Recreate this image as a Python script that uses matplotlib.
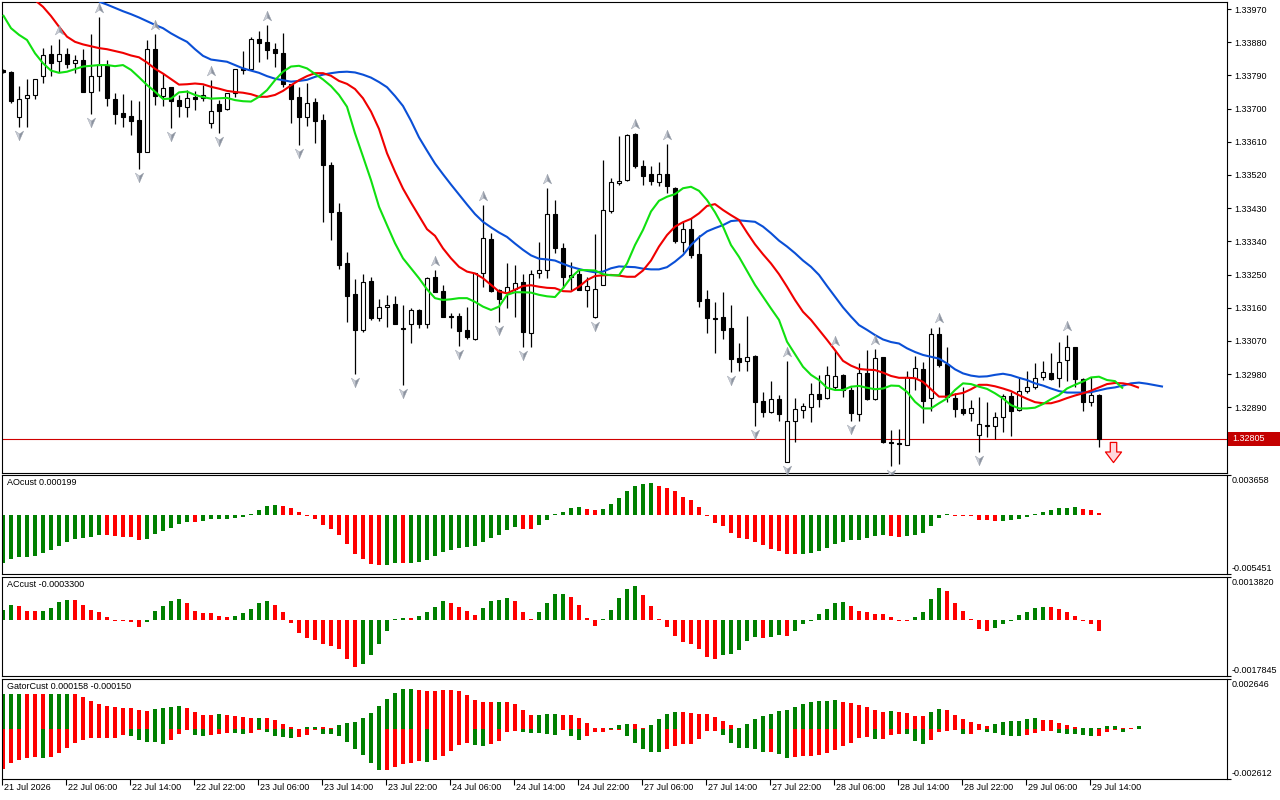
import numpy as np
import matplotlib
matplotlib.use("Agg")
import matplotlib.pyplot as plt
from matplotlib.path import Path
from matplotlib.patches import Rectangle
from matplotlib.transforms import offset_copy, blended_transform_factory

plt.rcParams['font.family'] = ['Liberation Sans', 'DejaVu Sans']
plt.rcParams['font.size'] = 6.5

# ---- H1 candles, prices in points (1e-5) ----
open_pts = [133804, 133799, 133678, 133730, 133736, 133787, 133848, 133830, 133848, 133823,
            133832, 133746, 133787, 133817, 133726, 133688, 133680, 133669, 133583, 133862,
            133734, 133758, 133723, 133705, 133731, 133730, 133660, 133712, 133698, 133741,
            133809, 133806, 133888, 133880, 133862, 133852, 133766, 133731, 133678, 133718,
            133669, 133548, 133420, 133280, 133197, 133100, 133233, 133131, 133161, 133170,
            133104, 133115, 133154, 133115, 133242, 133205, 133138, 133138, 133100, 133074,
            133255, 133346, 133208, 133199, 133212, 133229, 133092, 133255, 133261, 133413,
            133321, 133242, 133251, 133208, 133134, 133223, 133423, 133499, 133506, 133630,
            133544, 133523, 133502, 133523, 133486, 133339, 133373, 133306, 133183, 133133,
            133134, 133104, 133023, 133016, 133029, 132907, 132876, 132912, 132743, 132854,
            132883, 132892, 132925, 132914, 132946, 132978, 132937, 132871, 132982, 132912,
            133026, 132796, 132792, 132788, 132969, 132994, 132914, 133089, 133007, 132916,
            132885, 132874, 132815, 132838, 132840, 132863, 132921, 132883, 132935, 132944,
            132973, 132984, 132969, 133018, 133053, 132966, 132904, 132923]
high_pts = [133806, 133802, 133761, 133780, 133781, 133863, 133872, 133890, 133863, 133845,
            133862, 133902, 133947, 133832, 133741, 133739, 133723, 133721, 133886, 133902,
            133797, 133759, 133737, 133750, 133749, 133764, 133777, 133723, 133743, 133808,
            133856, 133895, 133910, 133927, 133877, 133904, 133768, 133758, 133770, 133728,
            133685, 133554, 133443, 133310, 133237, 133251, 133242, 133183, 133195, 133192,
            133167, 133158, 133156, 133242, 133262, 133222, 133147, 133145, 133163, 133255,
            133439, 133364, 133210, 133280, 133276, 133251, 133262, 133337, 133484, 133452,
            133336, 133285, 133261, 133244, 133360, 133561, 133511, 133626, 133630, 133633,
            133561, 133544, 133554, 133604, 133488, 133396, 133402, 133357, 133208, 133176,
            133203, 133167, 133065, 133138, 133031, 132932, 132961, 132923, 133016, 132914,
            132901, 132957, 132978, 133002, 133045, 132979, 132946, 133009, 133045, 133048,
            133027, 132829, 132830, 132989, 133029, 133014, 133104, 133107, 133053, 132928,
            132944, 132910, 132919, 132905, 132876, 132926, 132932, 132973, 132989, 133009,
            133016, 133038, 133068, 133086, 133054, 132969, 132973, 132925]
low_pts = [133797, 133716, 133651, 133651, 133727, 133770, 133787, 133800, 133809, 133797,
           133745, 133686, 133749, 133707, 133658, 133651, 133628, 133536, 133582, 133710,
           133707, 133648, 133678, 133678, 133696, 133721, 133646, 133635, 133697, 133732,
           133794, 133805, 133827, 133835, 133814, 133759, 133662, 133601, 133654, 133606,
           133393, 133344, 133264, 133120, 132980, 133095, 133127, 133125, 133109, 133115,
           132951, 133065, 133104, 133104, 133203, 133134, 133104, 133056, 133074, 133073,
           133217, 133204, 133122, 133158, 133136, 133053, 133054, 133240, 133240, 133308,
           133213, 133208, 133207, 133163, 133131, 133222, 133416, 133493, 133505, 133540,
           133493, 133493, 133491, 133472, 133336, 133310, 133294, 133161, 133091, 133038,
           133074, 132987, 132988, 132989, 132838, 132865, 132874, 132854, 132742, 132797,
           132860, 132851, 132892, 132912, 132941, 132917, 132854, 132854, 132910, 132910,
           132794, 132731, 132736, 132787, 132937, 132848, 132881, 133000, 132905, 132863,
           132869, 132854, 132770, 132809, 132803, 132824, 132813, 132881, 132930, 132939,
           132964, 132964, 132944, 132962, 132946, 132881, 132894, 132783]
close_pts = [133799, 133721, 133725, 133736, 133779, 133844, 133824, 133848, 133821, 133831,
             133746, 133787, 133818, 133730, 133686, 133678, 133667, 133583, 133861, 133734,
             133755, 133721, 133707, 133728, 133727, 133738, 133693, 133694, 133741, 133806,
             133805, 133888, 133879, 133859, 133852, 133766, 133727, 133678, 133714, 133667,
             133548, 133419, 133276, 133193, 133100, 133231, 133133, 133161, 133167, 133116,
             133103, 133154, 133116, 133240, 133204, 133136, 133134, 133098, 133082, 133253,
             133348, 133206, 133185, 133215, 133226, 133095, 133251, 133262, 133413, 133321,
             133242, 133249, 133208, 133219, 133210, 133425, 133502, 133504, 133628, 133543,
             133518, 133505, 133523, 133491, 133342, 133373, 133303, 133179, 133133, 133130,
             133100, 133021, 133014, 133026, 132905, 132876, 132912, 132871, 132854, 132885,
             132894, 132925, 132913, 132977, 132975, 132937, 132874, 132982, 132913, 133023,
             132797, 132792, 132790, 132973, 132996, 132908, 133089, 133005, 132919, 132885,
             132874, 132887, 132844, 132841, 132863, 132921, 132881, 132935, 132944, 132970,
             132985, 132966, 133014, 133053, 132966, 132904, 132923, 132805]

# ---- Alligator lines (already shifted forward), first bar index + values in points ----
jaw_start = 12
jaw_pts = [133990, 133982, 133973, 133964, 133956, 133947, 133937, 133927, 133918, 133904,
           133892, 133881, 133861, 133843, 133833, 133830, 133827, 133818, 133809, 133803,
           133797, 133788, 133781, 133777, 133773, 133775, 133778, 133786, 133792, 133796,
           133799, 133800, 133798, 133792, 133784, 133772, 133758, 133734, 133707, 133667,
           133622, 133586, 133551, 133522, 133494, 133467, 133440, 133414, 133393, 133378,
           133364, 133352, 133334, 133317, 133302, 133293, 133291, 133288, 133279, 133271,
           133265, 133260, 133256, 133258, 133267, 133272, 133271, 133270, 133266, 133264,
           133264, 133270, 133285, 133303, 133330, 133351, 133367, 133376, 133384, 133395,
           133397, 133395, 133393, 133380, 133362, 133342, 133326, 133308, 133288, 133271,
           133249, 133219, 133190, 133161, 133136, 133113, 133100, 133086, 133074, 133067,
           133063, 133050, 133040, 133032, 133027, 133022, 133009, 132993, 132982, 132976,
           132973, 132974, 132978, 132981, 132977, 132970, 132964, 132955, 132949, 132941,
           132934, 132930, 132930, 132930, 132931, 132936, 132941, 132944, 132949, 132955,
           132957, 132954, 132950, 132946]
teeth_start = 4
teeth_pts = [133994, 133976, 133951, 133922, 133895, 133881, 133874, 133869, 133864, 133861,
             133856, 133851, 133844, 133839, 133825, 133808, 133795, 133780, 133765, 133766,
             133768, 133766, 133759, 133754, 133748, 133745, 133743, 133739, 133732, 133732,
             133737, 133748, 133763, 133777, 133788, 133796, 133796, 133789, 133775, 133767,
             133753, 133728, 133692, 133645, 133579, 133529, 133483, 133445, 133409, 133373,
             133355, 133321, 133294, 133271, 133258, 133253, 133240, 133222, 133204, 133199,
             133209, 133219, 133221, 133217, 133214, 133213, 133205, 133204, 133217, 133235,
             133246, 133248, 133249, 133247, 133244, 133244, 133261, 133288, 133326, 133357,
             133380, 133392, 133401, 133416, 133436, 133441, 133425, 133411, 133398, 133364,
             133332, 133305, 133280, 133251, 133217, 133181, 133149, 133127, 133100, 133073,
             133045, 133016, 133003, 132994, 132992, 132991, 132984, 132975, 132970, 132970,
             132969, 132959, 132939, 132919, 132919, 132925, 132929, 132939, 132951, 132951,
             132947, 132941, 132934, 132923, 132913, 132904, 132901, 132901, 132907, 132915,
             132922, 132928, 132935, 132944, 132953, 132956, 132955, 132951, 132943]
lips_start = 0
lips_pts = [133954, 133918, 133900, 133886, 133850, 133823, 133803, 133797, 133800, 133807,
            133814, 133816, 133818, 133818, 133815, 133818, 133805, 133785, 133764, 133746,
            133726, 133727, 133744, 133746, 133737, 133731, 133727, 133728, 133729, 133723,
            133720, 133719, 133732, 133750, 133777, 133800, 133814, 133816, 133809, 133794,
            133779, 133761, 133737, 133705, 133633, 133570, 133506, 133434, 133384, 133335,
            133294, 133267, 133240, 133210, 133186, 133181, 133183, 133186, 133186, 133176,
            133163, 133154, 133163, 133195, 133202, 133202, 133201, 133195, 133191, 133189,
            133213, 133242, 133262, 133262, 133261, 133251, 133248, 133248, 133280, 133330,
            133371, 133421, 133450, 133461, 133468, 133484, 133488, 133477, 133452, 133419,
            133380, 133330, 133298, 133260, 133222, 133190, 133158, 133127, 133068, 133034,
            133000, 132978, 132964, 132943, 132937, 132937, 132946, 132948, 132943, 132939,
            132941, 132949, 132948, 132932, 132905, 132887, 132887, 132901, 132914, 132937,
            132955, 132953, 132946, 132940, 132928, 132914, 132896, 132887, 132887, 132889,
            132899, 132912, 132923, 132941, 132951, 132960, 132971, 132973, 132964, 132961,
            132941]

up_fractals = [7, 12, 19, 26, 33, 54, 60, 68, 79, 83, 98, 104, 109, 117, 133]
down_fractals = [2, 11, 17, 21, 27, 37, 44, 50, 57, 62, 65, 74, 91, 94, 98, 106, 111, 122]

signal_bar = 138.8
signal_price = 1.32769
last_price = 1.32805
price_ticks = [1.33970, 1.33880, 1.33790, 1.33700, 1.33610, 1.33520, 1.33430,
               1.33340, 1.33250, 1.33160, 1.33070, 1.32980, 1.32890]

# ---- oscillators, values in 1e-6 ----
ao_e6 = [-4436, -4098, -3884, -3880, -3791, -3515, -3270, -2870, -2533, -2256,
         -2164, -2072, -1888, -1895, -1980, -2072, -2080, -2349, -2256, -1796,
         -1520, -1213, -875, -691, -700, -568, -414, -405, -384, -322,
         -200, 40, 476, 783, 936, 844, 660, 261, -60, -414,
         -906, -1335, -1827, -2656, -3577, -4098, -4498, -4651, -4640, -4405,
         -4467, -4460, -4313, -4129, -3761, -3392, -3208, -3085, -2993, -2901,
         -2533, -2103, -1827, -1428, -1151, -1335, -1340, -967, -507, 46,
         292, 660, 752, 568, 414, 568, 1028, 1581, 2164, 2686,
         2870, 2880, 2656, 2471, 2164, 1673, 1335, 752, -46, -721,
         -1059, -1642, -2103, -2195, -2471, -2809, -3116, -3300, -3577, -3638,
         -3577, -3484, -3300, -3024, -2656, -2471, -2287, -2280, -2103, -1980,
         -1888, -1919, -2011, -1980, -1827, -1642, -998, -322, 20, -46,
         -50, -55, -445, -507, -599, -590, -507, -353, -169, 77,
         292, 476, 660, 665, 752, 568, 476, 199]
ao_colors = ("g" * 13 + "r" * 5 + "g" * 6 + "r" + "g" * 10 + "r" * 13 + "gg" + "r"
             + "g" * 14 + "rr" + "g" * 6 + "rr" + "g" * 7 + "r" * 18 + "g" * 11
             + "rr" + "g" * 6 + "r" * 6 + "g" * 10 + "rrr")

ac_e6 = [319, 500, 468, 287, 280, 308, 404, 574, 659, 650,
         500, 340, 255, 117, -11, -21, -53, -223, -64, 287,
         468, 606, 691, 542, 287, 244, 223, 149, 117, 149,
         223, 351, 542, 606, 500, 255, -96, -415, -574, -638,
         -776, -840, -925, -1244, -1499, -1403, -1116, -765, -351, 43,
         85, 80, 149, 255, 436, 627, 563, 436, 287, 181,
         404, 627, 659, 723, 627, 255, 53, 276, 563, 829,
         850, 744, 500, 85, -170, 43, 340, 723, 1010, 1106,
         819, 468, 43, -202, -521, -712, -776, -935, -1180, -1244,
         -1116, -1095, -957, -680, -542, -574, -542, -489, -510, -340,
         -128, -11, 213, 372, 563, 570, 446, 287, 255, 213,
         205, 117, -11, -15, 106, 276, 691, 1031, 946, 563,
         308, 21, -287, -340, -255, -117, -21, 170, 276, 404,
         436, 430, 372, 276, 149, -11, -128, -330]
ac_colors = ("gg" + "rrr" + "gggg" + "r" * 9 + "g" * 5 + "r" * 6 + "g" * 5 + "r" * 11
             + "g" * 6 + "r" + "gggg" + "rrrr" + "gggg" + "rrr" + "gggg" + "rrrr"
             + "g" * 5 + "r" * 10 + "g" * 5 + "r" + "gg" + "r" + "g" * 7 + "r" * 8
             + "gggg" + "r" * 6 + "g" * 7 + "r" * 7)

gator_up_e6 = [1848, 1848, 1848, 1848, 1848, 1848, 1848, 1848, 1848, 1848,
               1690, 1514, 1320, 1214, 1162, 1109, 1109, 1038, 968, 1056,
               1109, 1162, 1214, 1109, 898, 739, 739, 792, 739, 686,
               634, 581, 581, 581, 475, 264, 106, 0, 106, 106,
               106, 53, 211, 317, 370, 581, 845, 1214, 1584, 1936,
               2112, 2112, 2059, 2024, 2006, 2042, 2042, 2006, 1795, 1566,
               1461, 1443, 1461, 1461, 1320, 1003, 757, 757, 792, 792,
               757, 739, 616, 334, 53, 53, 88, 229, 264, 264,
               53, 229, 563, 792, 933, 898, 845, 792, 792, 634,
               440, 211, 18, 264, 528, 686, 792, 950, 1003, 1179,
               1320, 1426, 1478, 1478, 1531, 1461, 1390, 1285, 1162, 1003,
               898, 950, 898, 845, 686, 686, 898, 1056, 1003, 739,
               528, 370, 264, 158, 264, 370, 422, 422, 528, 581,
               475, 475, 317, 211, 106, 18, 18, 53, 158, 158,
               53, 18, 158]
gator_up_colors = ("ggg" + "rrr" + "ggg" + "r" + "r" * 9 + "gggg" + "rrrr" + "g" + "rrrr"
                   + "g" + "r" * 5 + "gg" + "rr" + "g" * 10 + "r" * 10 + "g" + "rrrr"
                   + "ggg" + "r" * 6 + "ggg" + "rr" + "gggg" + "r" * 7 + "g" * 13
                   + "r" * 6 + "g" + "rrrr" + "gg" + "r" * 6 + "g" * 6 + "r" * 5
                   + "g" * 5 + "rr" + "g")
gator_dn_e6 = [2094, 1778, 1637, 1514, 1461, 1514, 1461, 1250, 986, 722,
               581, 475, 475, 475, 475, 317, 370, 563, 686, 686,
               774, 581, 246, 35, 317, 370, 317, 264, 211, 211,
               264, 211, 53, 158, 370, 422, 475, 422, 317, 53,
               264, 264, 370, 686, 1056, 1373, 1795, 2165, 2165, 1989,
               1848, 1778, 1672, 1707, 1619, 1408, 1144, 827, 722, 827,
               880, 757, 616, 141, 88, 141, 194, 194, 229, 299,
               53, 352, 563, 334, 123, 123, 53, 53, 352, 704,
               1056, 1197, 1197, 1056, 880, 757, 757, 493, 88, 88,
               299, 704, 968, 1003, 1056, 1197, 1197, 1320, 1531, 1461,
               1426, 1426, 1373, 1250, 1109, 898, 704, 475, 405, 528,
               528, 299, 229, 264, 634, 792, 563, 141, 88, 53,
               264, 264, 53, 141, 211, 299, 352, 352, 299, 211,
               88, 88, 211, 264, 264, 299, 352, 352, 141, 53,
               150]
gator_dn_colors = ("r" * 5 + "g" + "r" * 10 + "g" * 5 + "rrr" + "gg" + "rrr" + "gg" + "rr"
                   + "gggg" + "rrr" + "g" * 8 + "r" * 5 + "g" + "r" * 5 + "gg" + "rrrr"
                   + "g" * 5 + "r" + "gg" + "r" * 5 + "g" * 5 + "r" * 7 + "g" * 6 + "r"
                   + "gg" + "r" * 10 + "g" + "rrr" + "ggg" + "rrrr" + "g" + "rr"
                   + "g" * 5 + "rrrr" + "g" * 5 + "rrr" + "g")

time_labels = ["21 Jul 2026", "22 Jul 06:00", "22 Jul 14:00", "22 Jul 22:00",
               "23 Jul 06:00", "23 Jul 14:00", "23 Jul 22:00", "24 Jul 06:00",
               "24 Jul 14:00", "24 Jul 22:00", "27 Jul 06:00", "27 Jul 14:00",
               "27 Jul 22:00", "28 Jul 06:00", "28 Jul 14:00", "28 Jul 22:00",
               "29 Jul 06:00", "29 Jul 14:00"]
time_label_step = 8

# ---- figure ----
W, H = 1280, 800
fig = plt.figure(figsize=(W / 100, H / 100), dpi=100)
fig.patch.set_facecolor('white')


def panel(top, bottom):
    a = fig.add_axes([2 / W, (H - bottom) / H, 1225 / W, (bottom - top) / H])
    a.set_xlim(-0.125, 153)
    for s in a.spines.values():
        s.set_linewidth(0.8)
        s.set_color('black')
    a.set_xticks([])
    return a


ax = panel(2, 473)
ax_ao = panel(475, 574)
ax_ac = panel(577, 676)
ax_gt = panel(679, 779)

GREEN, RED = '#008000', '#ff0000'
cmap = {'g': GREEN, 'r': RED}

# main price chart
o = np.array(open_pts) / 1e5
h = np.array(high_pts) / 1e5
l = np.array(low_pts) / 1e5
c = np.array(close_pts) / 1e5
x = np.arange(len(c))
bull = c >= o
ax.vlines(x, l, h, color='black', lw=0.9, zorder=2)
ax.bar(x, np.maximum(np.abs(c - o), 0.00002), bottom=np.minimum(o, c), width=0.62,
       color=np.where(bull, 'white', 'black'), edgecolor='black', linewidth=0.8, zorder=3)

for start, vals, col in [(jaw_start, jaw_pts, '#0a4fd6'),
                         (teeth_start, teeth_pts, '#f00000'),
                         (lips_start, lips_pts, '#10e010')]:
    ax.plot(np.arange(start, start + len(vals)), np.array(vals) / 1e5,
            color=col, lw=1.5, zorder=4, solid_capstyle='butt')

ax.set_ylim(1.327119, 1.339890)

# fractal arrowheads (two-tone)
left_half = Path([(0, 1), (0, -0.3), (-0.8, -0.85), (0, 1)],
                 [Path.MOVETO, Path.LINETO, Path.LINETO, Path.CLOSEPOLY])
right_half = Path([(0, 1), (0.8, -0.85), (0, -0.3), (0, 1)],
                  [Path.MOVETO, Path.LINETO, Path.LINETO, Path.CLOSEPOLY])
flip = lambda p: Path(p.vertices * [1, -1], p.codes)

up_tr = offset_copy(ax.transData, fig=fig, y=9, units='dots')
dn_tr = offset_copy(ax.transData, fig=fig, y=-8, units='dots')
for mk, col in [(left_half, '#c9cdd6'), (right_half, '#8c93a0')]:
    ax.plot(up_fractals, h[up_fractals], ls='none', marker=mk, ms=7.5, mfc=col,
            mec='#9aa0ab', mew=0.3, transform=up_tr, zorder=5, clip_on=False)
    ax.plot(down_fractals, l[down_fractals], ls='none', marker=flip(mk), ms=7.5, mfc=col,
            mec='#9aa0ab', mew=0.3, transform=dn_tr, zorder=5, clip_on=False)

# sell signal arrow
block_down = Path([(-0.32, 1), (0.32, 1), (0.32, 0.05), (0.8, 0.05), (0, -1),
                   (-0.8, 0.05), (-0.32, 0.05), (-0.32, 1)],
                  [Path.MOVETO] + [Path.LINETO] * 6 + [Path.CLOSEPOLY])
ax.plot([signal_bar], [signal_price], ls='none', marker=block_down, ms=14.5,
        mfc='#ffd6dc', mec='#f00000', mew=0.9, zorder=6)

# current price line and label
ax.axhline(last_price, color='#d00000', lw=0.8, zorder=1)
px_to_price = (1.339890 - 1.327119) / 471
bt = blended_transform_factory(fig.transFigure, ax.transData)
fig.patches.append(Rectangle((1228 / W, last_price - 7 * px_to_price), 52 / W, 14 * px_to_price,
                             transform=bt, facecolor='#c40000', edgecolor='none', zorder=10))
fig.text(1232 / W, last_price, f"{last_price:.5f}", transform=bt, color='white',
         va='center', ha='left', fontsize=6.5, zorder=11)

ax.yaxis.tick_right()
ax.set_yticks(price_ticks)
ax.set_yticklabels([f"{t:.5f}" for t in price_ticks])
ax.tick_params(axis='y', direction='out', length=3, width=0.8, pad=2, labelsize=6.5)


def hist(a, xs, vals, colors, ymin, ymax, height_px):
    # terminal draws every non-zero bar at least one pixel tall
    v = np.array(vals) * 1e-6
    one_px = (ymax - ymin) / height_px
    v = np.where(v == 0, 0, np.sign(v) * np.maximum(np.abs(v), one_px))
    a.bar(xs, v, width=0.5, color=[cmap[k] for k in colors], linewidth=0, zorder=2)
    a.set_ylim(ymin, ymax)


def title(a, txt):
    a.text(0, 1, txt, transform=offset_copy(a.transAxes, fig=fig, x=5, y=-3, units='dots'),
           ha='left', va='top', fontsize=6.5)


def edge_labels(a, top_txt, bot_txt):
    a.yaxis.tick_right()
    lo, hi = a.get_ylim()
    a.set_yticks([hi, lo])
    a.set_yticklabels(['', ''])
    a.tick_params(axis='y', direction='out', length=3, width=0.8)
    a.text(1, 1, top_txt, transform=offset_copy(a.transAxes, fig=fig, x=5, y=-1, units='dots'),
           ha='left', va='top', fontsize=6.5)
    a.text(1, 0, bot_txt, transform=offset_copy(a.transAxes, fig=fig, x=5, y=1, units='dots'),
           ha='left', va='bottom', fontsize=6.5)


hist(ax_ao, np.arange(len(ao_e6)), ao_e6, ao_colors, -0.005451, 0.003658, 99)
title(ax_ao, "AOcust 0.000199")
edge_labels(ax_ao, "0.003658", "-0.005451")

hist(ax_ac, np.arange(len(ac_e6)), ac_e6, ac_colors, -0.0017845, 0.0013820, 99)
title(ax_ac, "ACcust -0.0003300")
edge_labels(ax_ac, "0.0013820", "-0.0017845")

hist(ax_gt, np.arange(len(gator_up_e6)), gator_up_e6, gator_up_colors, -0.002612, 0.002646, 100)
hist(ax_gt, np.arange(len(gator_dn_e6)), -np.array(gator_dn_e6), gator_dn_colors,
     -0.002612, 0.002646, 100)
title(ax_gt, "GatorCust 0.000158 -0.000150")
edge_labels(ax_gt, "0.002646", "-0.002612")

# time axis
tick_bars = np.arange(len(time_labels)) * time_label_step
ax_gt.set_xticks(tick_bars - 0.125)
ax_gt.set_xticklabels([''] * len(tick_bars))
ax_gt.tick_params(axis='x', direction='out', length=4, width=0.8)
for b, lab in zip(tick_bars, time_labels):
    ax_gt.annotate(lab, xy=(b, 0), xycoords=('data', 'axes fraction'), xytext=(1, -4),
                   textcoords='offset pixels', ha='left', va='top', fontsize=6.5,
                   annotation_clip=False)

fig.savefig("out.png", dpi=100, facecolor='white')
